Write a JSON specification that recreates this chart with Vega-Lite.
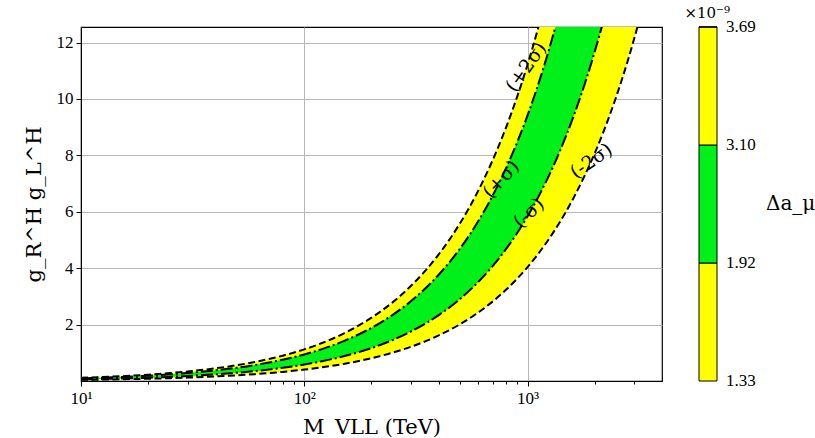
{
  "$schema": "https://vega.github.io/schema/vega-lite/v6.json",
  "width": 581,
  "height": 354,
  "autosize": {"type": "none"},
  "padding": {"left": 81, "top": 27, "right": 153, "bottom": 57},
  "background": "white",
  "config": {
    "view": {"stroke": "black", "strokeWidth": 1.2},
    "font": "Liberation Serif",
    "axis": {
      "domainColor": "black",
      "tickColor": "black",
      "labelColor": "black",
      "titleColor": "black",
      "labelFont": "Liberation Serif",
      "labelFontSize": 17,
      "titleFont": "DejaVu Serif",
      "titleFontWeight": "normal",
      "titleFontSize": 21,
      "gridColor": "#b8b8b8",
      "gridWidth": 1,
      "labelFlush": false
    }
  },
  "title": {
    "text": "×10⁻⁹",
    "anchor": "end",
    "frame": "group",
    "dx": 68,
    "offset": 6,
    "font": "DejaVu Serif",
    "fontSize": 15,
    "fontWeight": "normal",
    "color": "black"
  },
  "datasets": {
    "curves": [
      {"M": 10, "m2s": 0.040, "m1s": 0.058, "p1s": 0.094, "p2s": 0.112},
      {"M": 12, "m2s": 0.048, "m1s": 0.070, "p1s": 0.113, "p2s": 0.135},
      {"M": 15, "m2s": 0.061, "m1s": 0.088, "p1s": 0.141, "p2s": 0.168},
      {"M": 20, "m2s": 0.081, "m1s": 0.117, "p1s": 0.188, "p2s": 0.224},
      {"M": 25, "m2s": 0.101, "m1s": 0.146, "p1s": 0.236, "p2s": 0.281},
      {"M": 30, "m2s": 0.121, "m1s": 0.175, "p1s": 0.283, "p2s": 0.337},
      {"M": 40, "m2s": 0.162, "m1s": 0.234, "p1s": 0.377, "p2s": 0.449},
      {"M": 50, "m2s": 0.202, "m1s": 0.292, "p1s": 0.471, "p2s": 0.561},
      {"M": 60, "m2s": 0.242, "m1s": 0.350, "p1s": 0.565, "p2s": 0.673},
      {"M": 80, "m2s": 0.323, "m1s": 0.467, "p1s": 0.754, "p2s": 0.898},
      {"M": 100, "m2s": 0.404, "m1s": 0.584, "p1s": 0.942, "p2s": 1.122},
      {"M": 120, "m2s": 0.485, "m1s": 0.701, "p1s": 1.130, "p2s": 1.346},
      {"M": 150, "m2s": 0.606, "m1s": 0.876, "p1s": 1.413, "p2s": 1.683},
      {"M": 200, "m2s": 0.808, "m1s": 1.168, "p1s": 1.884, "p2s": 2.244},
      {"M": 250, "m2s": 1.010, "m1s": 1.460, "p1s": 2.355, "p2s": 2.805},
      {"M": 300, "m2s": 1.212, "m1s": 1.752, "p1s": 2.826, "p2s": 3.366},
      {"M": 400, "m2s": 1.616, "m1s": 2.336, "p1s": 3.768, "p2s": 4.488},
      {"M": 500, "m2s": 2.020, "m1s": 2.920, "p1s": 4.710, "p2s": 5.610},
      {"M": 600, "m2s": 2.424, "m1s": 3.504, "p1s": 5.652, "p2s": 6.732},
      {"M": 700, "m2s": 2.828, "m1s": 4.088, "p1s": 6.594, "p2s": 7.854},
      {"M": 800, "m2s": 3.232, "m1s": 4.672, "p1s": 7.536, "p2s": 8.976},
      {"M": 900, "m2s": 3.636, "m1s": 5.256, "p1s": 8.478, "p2s": 10.098},
      {"M": 1000, "m2s": 4.040, "m1s": 5.840, "p1s": 9.420, "p2s": 11.220},
      {"M": 1100, "m2s": 4.444, "m1s": 6.424, "p1s": 10.362, "p2s": 12.342},
      {"M": 1200, "m2s": 4.848, "m1s": 7.008, "p1s": 11.304, "p2s": 13.464},
      {"M": 1300, "m2s": 5.252, "m1s": 7.592, "p1s": 12.246, "p2s": 14.586},
      {"M": 1400, "m2s": 5.656, "m1s": 8.176, "p1s": 13.188, "p2s": 15.708},
      {"M": 1600, "m2s": 6.464, "m1s": 9.344, "p1s": 15.072, "p2s": 17.952},
      {"M": 1800, "m2s": 7.272, "m1s": 10.512, "p1s": 16.956, "p2s": 20.196},
      {"M": 2000, "m2s": 8.080, "m1s": 11.680, "p1s": 18.840, "p2s": 22.440},
      {"M": 2200, "m2s": 8.888, "m1s": 12.848, "p1s": 20.724, "p2s": 24.684},
      {"M": 2500, "m2s": 10.100, "m1s": 14.600, "p1s": 23.550, "p2s": 28.050},
      {"M": 2800, "m2s": 11.312, "m1s": 16.352, "p1s": 26.376, "p2s": 31.416},
      {"M": 3200, "m2s": 12.928, "m1s": 18.688, "p1s": 30.144, "p2s": 35.904}
    ],
    "labels": [
      {"M": 986, "g": 11.13, "label": "(+2σ)"},
      {"M": 762, "g": 7.15, "label": "(+σ)"},
      {"M": 1014, "g": 5.96, "label": "(-σ)"},
      {"M": 1930, "g": 7.8, "label": "(-2σ)"}
    ]
  },
  "layer": [
    {
      "data": {"name": "curves"},
      "mark": {"type": "area", "orient": "vertical", "clip": true, "interpolate": "monotone"},
      "encoding": {
        "x": {
          "field": "M",
          "type": "quantitative",
          "scale": {"type": "log", "domain": [10, 4000], "nice": false},
          "axis": {
            "title": "M_VLL (TeV)",
            "values": [10, 20, 30, 40, 50, 60, 70, 80, 90, 100, 200, 300, 400, 500, 600, 700, 800, 900, 1000, 2000, 3000],
            "labelExpr": "datum.value == 10 ? '10¹' : datum.value == 100 ? '10²' : datum.value == 1000 ? '10³' : ''",
            "grid": true,
            "gridOpacity": {"condition": {"test": "datum.value == 10 || datum.value == 100 || datum.value == 1000", "value": 1}, "value": 0},
            "tickSize": {"condition": {"test": "datum.value == 10 || datum.value == 100 || datum.value == 1000", "value": 5}, "value": 3},
            "labelPadding": 4,
            "labelOverlap": false,
            "titlePadding": 10
          }
        },
        "y": {
          "field": "m2s",
          "type": "quantitative",
          "scale": {"domain": [0, 12.55], "nice": false, "zero": false},
          "axis": {
            "title": "g_R^H g_L^H",
            "values": [2, 4, 6, 8, 10, 12],
            "grid": true,
            "tickSize": 5,
            "labelPadding": 3,
            "titlePadding": 12
          }
        },
        "y2": {"field": "p2s"},
        "fill": {
          "datum": 1.62,
          "type": "quantitative",
          "scale": {"type": "threshold", "domain": [1.92, 3.10], "range": ["#ffff00", "#00f01a", "#ffff00"]},
          "legend": {
            "type": "gradient",
            "direction": "vertical",
            "orient": "right",
            "offset": 37,
            "padding": 0,
            "gradientLength": 354,
            "gradientThickness": 18,
            "gradientStrokeColor": "black",
            "gradientStrokeWidth": 1,
            "labelFont": "Liberation Serif",
            "labelFontSize": 17,
            "labelColor": "black",
            "labelOffset": 9,
            "labelOverlap": false,
            "values": [0.74, 1.92, 3.10, 4.28],
            "labelExpr": "datum.value < 1 ? '1.33' : datum.value > 4 ? '3.69' : format(datum.value, '.2f')",
            "title": "Δa_μ",
            "titleOrient": "right",
            "titleAnchor": "middle",
            "titleFont": "DejaVu Serif",
            "titleFontSize": 20,
            "titleFontWeight": "normal",
            "titleColor": "black",
            "titlePadding": 10,
            "encode": {
              "title": {"update": {"angle": {"value": 0}, "align": {"value": "left"}, "baseline": {"value": "middle"}}},
              "labels": {"update": {"baseline": {"value": "middle"}}}
            }
          }
        }
      }
    },
    {
      "data": {"name": "curves"},
      "mark": {"type": "area", "orient": "vertical", "clip": true, "interpolate": "monotone"},
      "encoding": {
        "x": {"field": "M", "type": "quantitative"},
        "y": {"field": "m1s", "type": "quantitative"},
        "y2": {"field": "p1s"},
        "fill": {
          "datum": 2.51,
          "type": "quantitative",
          "scale": {"type": "threshold", "domain": [1.92, 3.10], "range": ["#ffff00", "#00f01a", "#ffff00"]}
        }
      }
    },
    {
      "data": {"name": "curves"},
      "transform": [{"fold": ["m2s", "m1s", "p1s", "p2s"], "as": ["curve", "g"]}],
      "mark": {"type": "line", "clip": true, "interpolate": "monotone", "color": "black", "strokeWidth": 2},
      "encoding": {
        "x": {"field": "M", "type": "quantitative"},
        "y": {"field": "g", "type": "quantitative"},
        "detail": {"field": "curve"},
        "strokeDash": {
          "field": "curve",
          "type": "nominal",
          "scale": {"domain": ["m2s", "m1s", "p1s", "p2s"], "range": [[7, 3.5], [12, 3, 2, 3], [12, 3, 2, 3], [7, 3.5]]},
          "legend": null
        }
      }
    },
    {
      "data": {"name": "labels"},
      "transform": [{"filter": "datum.label == '(+2σ)'"}],
      "mark": {"type": "text", "angle": -55, "font": "DejaVu Serif", "fontSize": 19, "color": "black", "align": "center", "baseline": "middle"},
      "encoding": {"x": {"field": "M", "type": "quantitative"}, "y": {"field": "g", "type": "quantitative"}, "text": {"field": "label"}}
    },
    {
      "data": {"name": "labels"},
      "transform": [{"filter": "datum.label == '(+σ)'"}],
      "mark": {"type": "text", "angle": -48, "font": "DejaVu Serif", "fontSize": 19, "color": "black", "align": "center", "baseline": "middle"},
      "encoding": {"x": {"field": "M", "type": "quantitative"}, "y": {"field": "g", "type": "quantitative"}, "text": {"field": "label"}}
    },
    {
      "data": {"name": "labels"},
      "transform": [{"filter": "datum.label == '(-σ)'"}],
      "mark": {"type": "text", "angle": -44, "font": "DejaVu Serif", "fontSize": 19, "color": "black", "align": "center", "baseline": "middle"},
      "encoding": {"x": {"field": "M", "type": "quantitative"}, "y": {"field": "g", "type": "quantitative"}, "text": {"field": "label"}}
    },
    {
      "data": {"name": "labels"},
      "transform": [{"filter": "datum.label == '(-2σ)'"}],
      "mark": {"type": "text", "angle": -35, "font": "DejaVu Serif", "fontSize": 19, "color": "black", "align": "center", "baseline": "middle"},
      "encoding": {"x": {"field": "M", "type": "quantitative"}, "y": {"field": "g", "type": "quantitative"}, "text": {"field": "label"}}
    }
  ]
}
